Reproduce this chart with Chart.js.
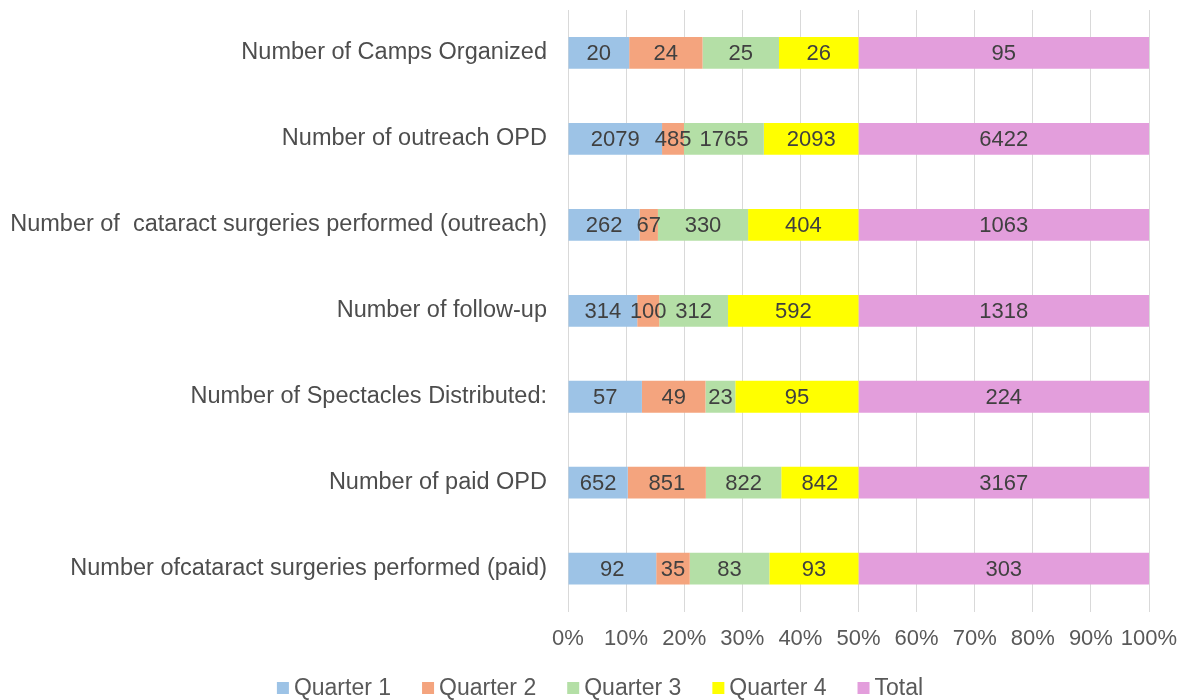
<!DOCTYPE html>
<html lang="en">
<head>
    <meta charset="UTF-8">
    <title>Quarterly outreach report</title>
    <script src="https://cdn.jsdelivr.net/npm/chart.js"></script>
    <style>
        html, body { margin: 0; padding: 0; background: #fff; }
        #wrap { width: 1181px; height: 700px; }
    </style>
</head>
<body>
<div id="wrap"><canvas id="barChart" width="1181" height="700"></canvas></div>
<script>
// categories (top to bottom)
const categories = [
    'Number of Camps Organized',
    'Number of outreach OPD',
    'Number of  cataract surgeries performed (outreach)',
    'Number of follow-up',
    'Number of Spectacles Distributed:',
    'Number of paid OPD',
    'Number ofcataract surgeries performed (paid)'
];
const seriesNames = ['Quarter 1', 'Quarter 2', 'Quarter 3', 'Quarter 4', 'Total'];
const quarter1 = [20, 2079, 262, 314, 57, 652, 92];
const quarter2 = [24, 485, 67, 100, 49, 851, 35];
const quarter3 = [25, 1765, 330, 312, 23, 822, 83];
const quarter4 = [26, 2093, 404, 592, 95, 842, 93];
const total    = [95, 6422, 1063, 1318, 224, 3167, 303];
const xTicks = [0, 10, 20, 30, 40, 50, 60, 70, 80, 90, 100];

const colors = ['#9dc3e6', '#f4a47e', '#b4dfa6', '#ffff00', '#e39edc'];
const FONT = '"Liberation Sans", Arial, sans-serif';

const rawSeries = [quarter1, quarter2, quarter3, quarter4, total];
// 100% stacked: each row share of the row sum
const rowSums = categories.map((c, i) => rawSeries.reduce((s, arr) => s + arr[i], 0));

const datasets = rawSeries.map((arr, k) => ({
    label: seriesNames[k],
    data: arr.map((v, i) => v / rowSums[i] * 100),
    raw: arr,
    backgroundColor: colors[k],
    borderWidth: 0,
    barPercentage: 0.37,
    categoryPercentage: 1
}));

// value labels in the middle of each segment
const valueLabels = {
    id: 'valueLabels',
    afterDatasetsDraw(chart) {
        const ctx = chart.ctx;
        ctx.save();
        ctx.font = '22px ' + FONT;
        ctx.fillStyle = '#404040';
        ctx.textAlign = 'center';
        ctx.textBaseline = 'middle';
        chart.data.datasets.forEach((ds, k) => {
            chart.getDatasetMeta(k).data.forEach((bar, i) => {
                const p = bar.getProps(['x', 'y', 'base'], true);
                ctx.fillText(String(ds.raw[i]), (p.x + p.base) / 2, p.y + 1);
            });
        });
        ctx.restore();
    }
};

// legend at the bottom, square markers close to the text
const bottomLegend = {
    id: 'bottomLegend',
    afterDraw(chart) {
        const ctx = chart.ctx;
        ctx.save();
        ctx.font = '23px ' + FONT;
        ctx.textBaseline = 'middle';
        const box = 12, gap = 5, space = 31;
        const items = chart.data.datasets.map(ds => ({ text: ds.label, color: ds.backgroundColor, w: ctx.measureText(ds.label).width }));
        const full = items.reduce((s, it) => s + box + gap + it.w, 0) + space * (items.length - 1);
        let x = 600 - full / 2;
        const y = 688;
        items.forEach(it => {
            ctx.fillStyle = it.color;
            ctx.fillRect(x, y - box / 2, box, box);
            ctx.fillStyle = '#595959';
            ctx.fillText(it.text, x + box + gap, y + 1);
            x += box + gap + it.w + space;
        });
        ctx.restore();
    }
};

new Chart(document.getElementById('barChart'), {
    type: 'bar',
    data: { labels: categories, datasets: datasets },
    options: {
        indexAxis: 'y',
        responsive: false,
        animation: false,
        layout: { padding: { left: 11, right: 32, top: 10, bottom: 34 } },
        plugins: {
            legend: { display: false },
            tooltip: { enabled: false }
        },
        scales: {
            x: {
                stacked: true,
                min: 0,
                max: 100,
                afterBuildTicks: axis => { axis.ticks = xTicks.map(v => ({ value: v })); },
                afterFit: axis => { axis.paddingLeft = 0; axis.paddingRight = 0; },
                ticks: {
                    callback: v => v + '%',
                    color: '#595959',
                    font: { size: 22, family: FONT },
                    padding: 14,
                    autoSkip: false,
                    maxRotation: 0
                },
                grid: { color: '#d9d9d9', lineWidth: 1, drawTicks: false },
                border: { display: false }
            },
            y: {
                stacked: true,
                afterFit: axis => { axis.width = 557; axis.paddingTop = 0; axis.paddingBottom = 0; },
                ticks: {
                    color: '#4d4d4d',
                    font: { size: 23.5, family: FONT },
                    padding: 21
                },
                grid: { display: false, drawTicks: false },
                border: { display: false }
            }
        }
    },
    plugins: [valueLabels, bottomLegend]
});
</script>
</body>
</html>
